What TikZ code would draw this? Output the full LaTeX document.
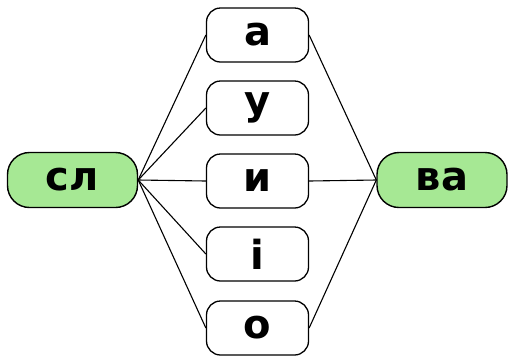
\documentclass[tikz,border=0pt]{standalone}
\usepackage{fontspec}
\setmainfont{DejaVu Sans}
\definecolor{boxgreen}{RGB}{166,232,148}
\begin{document}
\begin{tikzpicture}[x=1pt,y=-1pt,
  letterbox/.style={draw=black,line width=1.3pt,rounded corners=14pt,minimum width=102pt,minimum height=54pt,inner sep=0pt,font=\fontsize{40}{40}\selectfont\bfseries},
  greenbox/.style={draw=black,line width=1.4pt,fill=boxgreen,rounded corners=22pt,minimum width=130pt,minimum height=55pt,inner sep=0pt,font=\fontsize{40}{40}\selectfont\bfseries},
  link/.style={draw=black,line width=1.1pt}]
\useasboundingbox (0,0) rectangle (510,357);
\node[greenbox] (sl) at (72.5,180) {сл};
\node[greenbox] (va) at (442,180) {ва};
\node[letterbox] (a) at (257.5,35) {а};
\node[letterbox] (u) at (257.5,108) {у};
\node[letterbox] (y) at (257.5,181) {и};
\node[letterbox] (i) at (257.5,254) {і};
\node[letterbox] (o) at (257.5,328) {о};
\foreach \n in {a,u,y,i,o} \draw[link] (sl.east) -- (\n.west);
\foreach \n in {a,y,o} \draw[link] (\n.east) -- (va.west);
\end{tikzpicture}
\end{document}
